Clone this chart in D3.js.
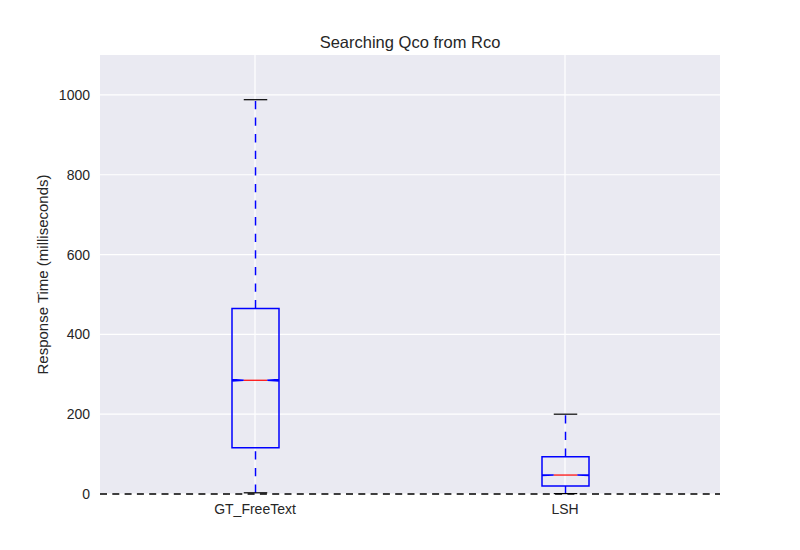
<!DOCTYPE html>
<html>
<head>
<meta charset="utf-8">
<script src="https://cdn.jsdelivr.net/npm/d3@7"></script>
<style>
  body { margin: 0; background: #fff; }
  text { font-family: "Liberation Sans", Arial, sans-serif; fill: #262626; }
</style>
</head>
<body>
<div id="chart"></div>
<script>
const width = 800;
const height = 550;
const margin = { top: 55, right: 80, bottom: 56, left: 100 };

// box stats (milliseconds)
const categories = ["GT_FreeText", "LSH"];
const whiskerLow = [3, 1];
const q1 = [116, 20];
const median = [285, 47.5];
const q3 = [465, 93.5];
const whiskerHigh = [988, 200];
const notchHalf = [2, 1];
const yTicks = [0, 200, 400, 600, 800, 1000];

const boxes = categories.map((c, i) => ({
  name: c, lo: whiskerLow[i], q1: q1[i], med: median[i], q3: q3[i], hi: whiskerHigh[i], notch: notchHalf[i]
}));

const svg = d3.select("#chart")
  .append("svg")
  .attr("width", width)
  .attr("height", height);

const x = d3.scaleBand()
  .domain(categories)
  .range([margin.left, width - margin.right]);

const y = d3.scaleLinear()
  .domain([0, 1100])
  .range([height - margin.bottom, margin.top]);

svg.append("rect")
  .attr("x", margin.left)
  .attr("y", margin.top)
  .attr("width", width - margin.left - margin.right)
  .attr("height", height - margin.top - margin.bottom)
  .attr("fill", "#EAEAF2");

// grid
svg.append("g")
  .selectAll("line")
  .data(yTicks)
  .enter().append("line")
  .attr("x1", margin.left)
  .attr("x2", width - margin.right)
  .attr("y1", d => y(d))
  .attr("y2", d => y(d))
  .attr("stroke", "#fff")
  .attr("stroke-width", 1.2);

svg.append("g")
  .selectAll("line")
  .data(categories)
  .enter().append("line")
  .attr("x1", d => x(d) + x.bandwidth() / 2)
  .attr("x2", d => x(d) + x.bandwidth() / 2)
  .attr("y1", margin.top)
  .attr("y2", height - margin.bottom)
  .attr("stroke", "#fff")
  .attr("stroke-width", 1.2);

// axes
const yAxis = svg.append("g")
  .attr("transform", `translate(${margin.left},0)`)
  .call(d3.axisLeft(y).tickValues(yTicks).tickFormat(d3.format("d")).tickSize(0).tickPadding(10));
yAxis.select(".domain").remove();
yAxis.selectAll("text").style("font-size", "14px").attr("fill", "#262626");

const xAxis = svg.append("g")
  .attr("transform", `translate(0,${height - margin.bottom})`)
  .call(d3.axisBottom(x).tickSize(0).tickPadding(10));
xAxis.select(".domain").remove();
xAxis.selectAll("text").style("font-size", "14px").attr("fill", "#262626");

svg.append("text")
  .attr("transform", `translate(48,${(margin.top + height - margin.bottom) / 2}) rotate(-90)`)
  .attr("text-anchor", "middle")
  .style("font-size", "15px")
  .text("Response Time (milliseconds)");

svg.append("text")
  .attr("x", (margin.left + width - margin.right) / 2)
  .attr("y", 48)
  .attr("text-anchor", "middle")
  .style("font-size", "16.5px")
  .text("Searching Qco from Rco");

// boxes
const boxW = 47;
const g = svg.append("g");

boxes.forEach(b => {
  const cx = x(b.name) + x.bandwidth() / 2 + 0.5;
  const l = cx - boxW / 2, r = cx + boxW / 2;
  const nl = cx - boxW / 4, nr = cx + boxW / 4;

  // whiskers
  [[b.lo, b.q1], [b.q3, b.hi]].forEach(([a, c]) => {
    g.append("line")
      .attr("x1", cx).attr("x2", cx)
      .attr("y1", y(a)).attr("y2", y(c))
      .attr("stroke", "#0000ff")
      .attr("stroke-width", 1.5)
      .attr("stroke-dasharray", "8.3,8.3");
  });

  // caps
  [b.lo, b.hi].forEach(v => {
    g.append("line")
      .attr("x1", cx - boxW / 4).attr("x2", cx + boxW / 4)
      .attr("y1", y(v)).attr("y2", y(v))
      .attr("stroke", "#000")
      .attr("stroke-width", 1.2);
  });

  // notched box
  const p = d3.path();
  p.moveTo(l, y(b.q1));
  p.lineTo(r, y(b.q1));
  p.lineTo(r, y(b.med - b.notch));
  p.lineTo(nr, y(b.med));
  p.lineTo(r, y(b.med + b.notch));
  p.lineTo(r, y(b.q3));
  p.lineTo(l, y(b.q3));
  p.lineTo(l, y(b.med + b.notch));
  p.lineTo(nl, y(b.med));
  p.lineTo(l, y(b.med - b.notch));
  p.closePath();
  g.append("path")
    .attr("d", p.toString())
    .attr("fill", "none")
    .attr("stroke", "#0000ff")
    .attr("stroke-width", 1.5);

  g.append("line")
    .attr("x1", nl).attr("x2", nr)
    .attr("y1", y(b.med)).attr("y2", y(b.med))
    .attr("stroke", "#ff0000")
    .attr("stroke-width", 1.2);
});

// zero reference line
svg.append("line")
  .attr("x1", margin.left)
  .attr("x2", width - margin.right)
  .attr("y1", y(0))
  .attr("y2", y(0))
  .attr("stroke", "#000")
  .attr("stroke-width", 1.5)
  .attr("stroke-dasharray", "7,5.3");
</script>
</body>
</html>
